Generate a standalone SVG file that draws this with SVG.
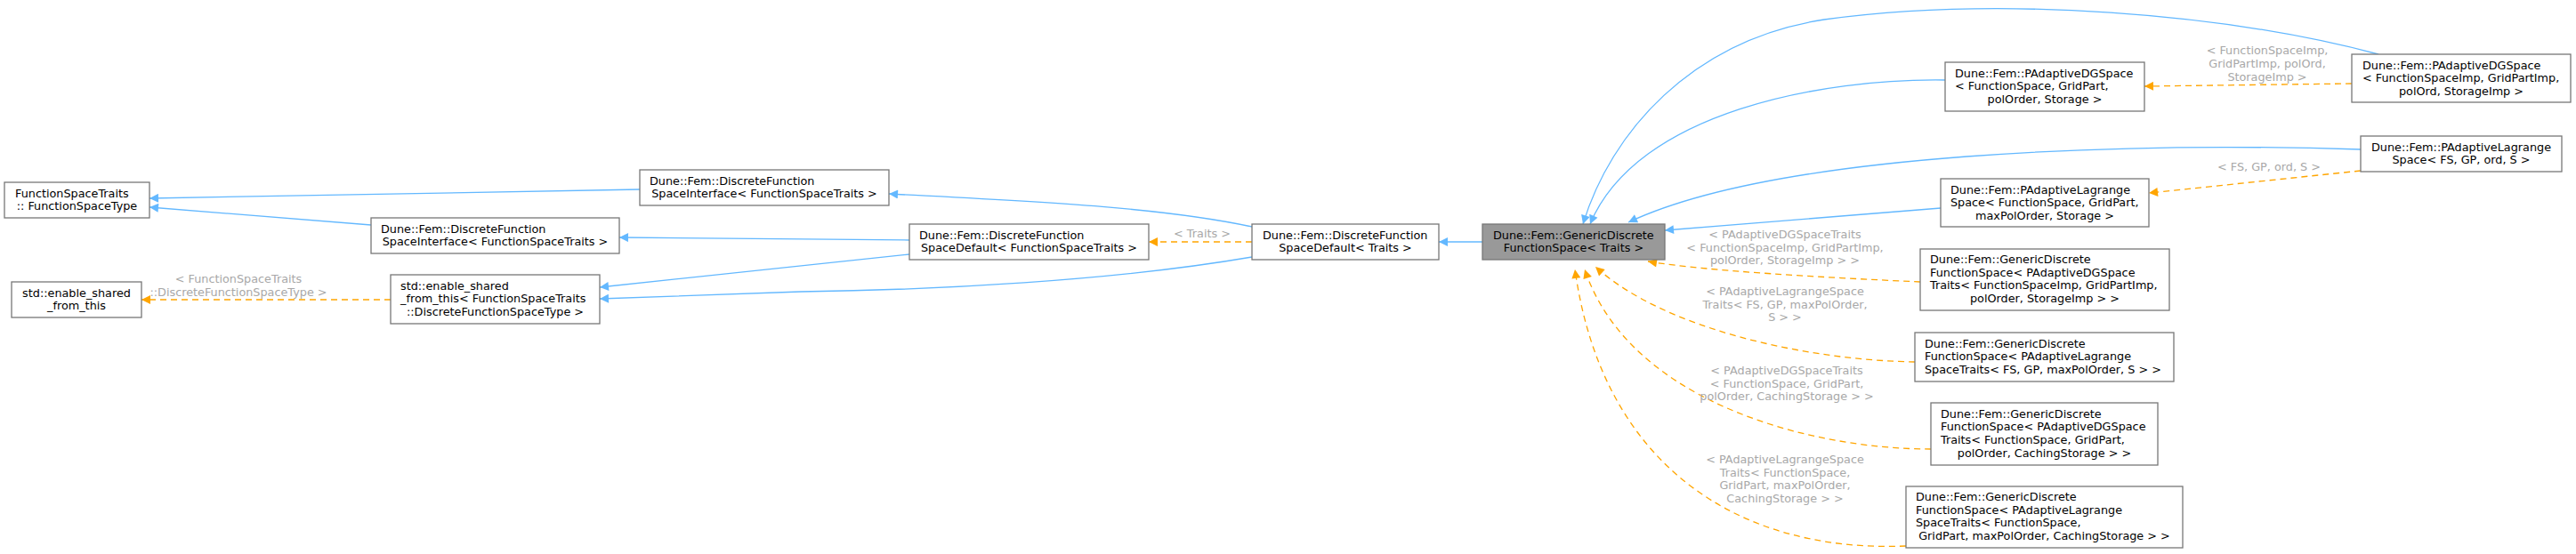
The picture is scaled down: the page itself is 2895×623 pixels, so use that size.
<svg xmlns="http://www.w3.org/2000/svg" width="2895" height="623" viewBox="0 0 2895 623">
<style>
text{font-family:"DejaVu Sans",sans-serif;font-size:12.8px;fill:#000}
.n rect{fill:#fff;stroke:#777;stroke-width:1.3}
.n.g rect{fill:#999}
.c{text-anchor:middle}
.lb{fill:#a8a8a8;text-anchor:middle}
.b{fill:none;stroke:#63b8ff;stroke-width:1.3}
.o{fill:none;stroke:#ffa500;stroke-width:1.3;stroke-dasharray:7,5}
</style>
<defs>
<marker id="ab" viewBox="0 0 10 10" refX="10" refY="5" markerWidth="12" markerHeight="10" markerUnits="userSpaceOnUse" orient="auto"><path d="M0,0L10,5L0,10z" fill="#63b8ff"/></marker>
<marker id="ao" viewBox="0 0 10 10" refX="10" refY="5" markerWidth="12" markerHeight="10" markerUnits="userSpaceOnUse" orient="auto"><path d="M0,0L10,5L0,10z" fill="#ffa500"/></marker>
</defs>
<g id="edges">
<path class="b" marker-end="url(#ab)" d="M719,213 L168,223"/>
<path class="b" marker-end="url(#ab)" d="M417,253 L168,233"/>
<path class="b" marker-end="url(#ab)" d="M1022,270 L696,267"/>
<path class="b" marker-end="url(#ab)" d="M1022,286 L674,323"/>
<path class="b" marker-end="url(#ab)" d="M1407,255 C1300,232 1150,226 999,218"/>
<path class="b" marker-end="url(#ab)" d="M1407,289 C1250,316 1050,326 900,328 L674,336"/>
<path class="o" marker-end="url(#ao)" d="M1407,272 L1291,272"/>
<text class="lb" x="1351" y="267">&lt; Traits &gt;</text>
<path class="o" marker-end="url(#ao)" d="M439,337 L159,337"/>
<text class="lb" x="268" y="318">&lt; FunctionSpaceTraits</text>
<text class="lb" x="268" y="333">::DiscreteFunctionSpaceType &gt;</text>
<path class="b" marker-end="url(#ab)" d="M1666,272 L1617,272"/>
<path class="b" marker-end="url(#ab)" d="M2186,90 C2050,88 1840,125 1787,252"/>
<path class="b" marker-end="url(#ab)" d="M2673,61 C2500,15 2250,-5 2050,22 C1900,45 1810,150 1779,252"/>
<path class="b" marker-end="url(#ab)" d="M2653,168 C2400,160 2000,170 1830,250"/>
<path class="b" marker-end="url(#ab)" d="M2181,234 C2050,245 1950,252 1871,259"/>
<path class="o" marker-end="url(#ao)" d="M2643,94 L2410,97"/>
<text class="lb" x="2548" y="61">&lt; FunctionSpaceImp,</text>
<text class="lb" x="2548" y="76">GridPartImp, polOrd,</text>
<text class="lb" x="2548" y="91">StorageImp &gt;</text>
<path class="o" marker-end="url(#ao)" d="M2653,192 L2415,217"/>
<text class="lb" x="2550" y="192">&lt; FS, GP, ord, S &gt;</text>
<path class="o" marker-end="url(#ao)" d="M2158,317 C2050,312 1920,305 1852,294"/>
<text class="lb" x="2006" y="268">&lt; PAdaptiveDGSpaceTraits</text>
<text class="lb" x="2006" y="283">&lt; FunctionSpaceImp, GridPartImp,</text>
<text class="lb" x="2006" y="297">polOrder, StorageImp &gt; &gt;</text>
<path class="o" marker-end="url(#ao)" d="M2152,407 C2030,405 1870,370 1793,300"/>
<text class="lb" x="2006" y="332">&lt; PAdaptiveLagrangeSpace</text>
<text class="lb" x="2006" y="347">Traits&lt; FS, GP, maxPolOrder,</text>
<text class="lb" x="2006" y="361">S &gt; &gt;</text>
<path class="o" marker-end="url(#ao)" d="M2170,505 C2030,505 1830,450 1781,303"/>
<text class="lb" x="2008" y="421">&lt; PAdaptiveDGSpaceTraits</text>
<text class="lb" x="2008" y="436">&lt; FunctionSpace, GridPart,</text>
<text class="lb" x="2008" y="450">polOrder, CachingStorage &gt; &gt;</text>
<path class="o" marker-end="url(#ao)" d="M2142,614 C1950,622 1800,520 1770,303"/>
<text class="lb" x="2006" y="521">&lt; PAdaptiveLagrangeSpace</text>
<text class="lb" x="2006" y="536">Traits&lt; FunctionSpace,</text>
<text class="lb" x="2006" y="550">GridPart, maxPolOrder,</text>
<text class="lb" x="2006" y="565">CachingStorage &gt; &gt;</text>
</g>
<g id="n1" class="n"><rect x="5" y="205" width="163" height="40"/><text x="17" y="221.5">FunctionSpaceTraits</text><text class="c" x="86.5" y="236">:: FunctionSpaceType</text></g>
<g id="n2" class="n"><rect x="13" y="317" width="146" height="40"/><text class="c" x="86" y="333.5">std::enable_shared</text><text class="c" x="86" y="348">_from_this</text></g>
<g id="n3" class="n"><rect x="417" y="245" width="279" height="40"/><text x="428" y="261.5">Dune::Fem::DiscreteFunction</text><text class="c" x="556.5" y="276">SpaceInterface&lt; FunctionSpaceTraits &gt;</text></g>
<g id="n4" class="n"><rect x="439" y="309" width="235" height="55"/><text x="450" y="325.5">std::enable_shared</text><text x="450" y="340">_from_this&lt; FunctionSpaceTraits</text><text class="c" x="556.5" y="355">::DiscreteFunctionSpaceType &gt;</text></g>
<g id="n5" class="n"><rect x="719" y="191" width="280" height="40"/><text x="730" y="207.5">Dune::Fem::DiscreteFunction</text><text class="c" x="859" y="222">SpaceInterface&lt; FunctionSpaceTraits &gt;</text></g>
<g id="n6" class="n"><rect x="1022" y="252" width="269" height="40"/><text x="1033" y="268.5">Dune::Fem::DiscreteFunction</text><text class="c" x="1156.5" y="283">SpaceDefault&lt; FunctionSpaceTraits &gt;</text></g>
<g id="n7" class="n"><rect x="1407" y="252" width="210" height="40"/><text x="1419" y="268.5">Dune::Fem::DiscreteFunction</text><text class="c" x="1512" y="283">SpaceDefault&lt; Traits &gt;</text></g>
<g id="n8" class="n g"><rect x="1666" y="252" width="205" height="40"/><text x="1678" y="268.5">Dune::Fem::GenericDiscrete</text><text class="c" x="1768.5" y="283">FunctionSpace&lt; Traits &gt;</text></g>
<g id="n9" class="n"><rect x="2186" y="70" width="224" height="55"/><text x="2197" y="86.5">Dune::Fem::PAdaptiveDGSpace</text><text x="2197" y="101">&lt; FunctionSpace, GridPart,</text><text class="c" x="2298" y="115.5">polOrder, Storage &gt;</text></g>
<g id="n10" class="n"><rect x="2643" y="61" width="246" height="54"/><text x="2655" y="77.5">Dune::Fem::PAdaptiveDGSpace</text><text x="2655" y="92">&lt; FunctionSpaceImp, GridPartImp,</text><text class="c" x="2766" y="106.5">polOrd, StorageImp &gt;</text></g>
<g id="n11" class="n"><rect x="2653" y="153" width="226" height="40"/><text x="2665" y="169.5">Dune::Fem::PAdaptiveLagrange</text><text class="c" x="2766" y="184">Space&lt; FS, GP, ord, S &gt;</text></g>
<g id="n12" class="n"><rect x="2181" y="201" width="234" height="54"/><text x="2192" y="217.5">Dune::Fem::PAdaptiveLagrange</text><text x="2192" y="232">Space&lt; FunctionSpace, GridPart,</text><text class="c" x="2298" y="246.5">maxPolOrder, Storage &gt;</text></g>
<g id="n13" class="n"><rect x="2158" y="280" width="280" height="69"/><text x="2169" y="296">Dune::Fem::GenericDiscrete</text><text x="2169" y="310.7">FunctionSpace&lt; PAdaptiveDGSpace</text><text x="2169" y="325.4">Traits&lt; FunctionSpaceImp, GridPartImp,</text><text class="c" x="2298" y="340">polOrder, StorageImp &gt; &gt;</text></g>
<g id="n14" class="n"><rect x="2152" y="374" width="291" height="55"/><text x="2163" y="390.5">Dune::Fem::GenericDiscrete</text><text x="2163" y="405">FunctionSpace&lt; PAdaptiveLagrange</text><text x="2163" y="419.7">SpaceTraits&lt; FS, GP, maxPolOrder, S &gt; &gt;</text></g>
<g id="n15" class="n"><rect x="2170" y="453" width="255" height="70"/><text x="2181" y="469.5">Dune::Fem::GenericDiscrete</text><text x="2181" y="484.2">FunctionSpace&lt; PAdaptiveDGSpace</text><text x="2181" y="499">Traits&lt; FunctionSpace, GridPart,</text><text class="c" x="2297.5" y="513.5">polOrder, CachingStorage &gt; &gt;</text></g>
<g id="n16" class="n"><rect x="2142" y="547" width="311" height="69"/><text x="2153" y="563">Dune::Fem::GenericDiscrete</text><text x="2153" y="577.7">FunctionSpace&lt; PAdaptiveLagrange</text><text x="2153" y="592.4">SpaceTraits&lt; FunctionSpace,</text><text class="c" x="2297.5" y="607">GridPart, maxPolOrder, CachingStorage &gt; &gt;</text></g>
</svg>
